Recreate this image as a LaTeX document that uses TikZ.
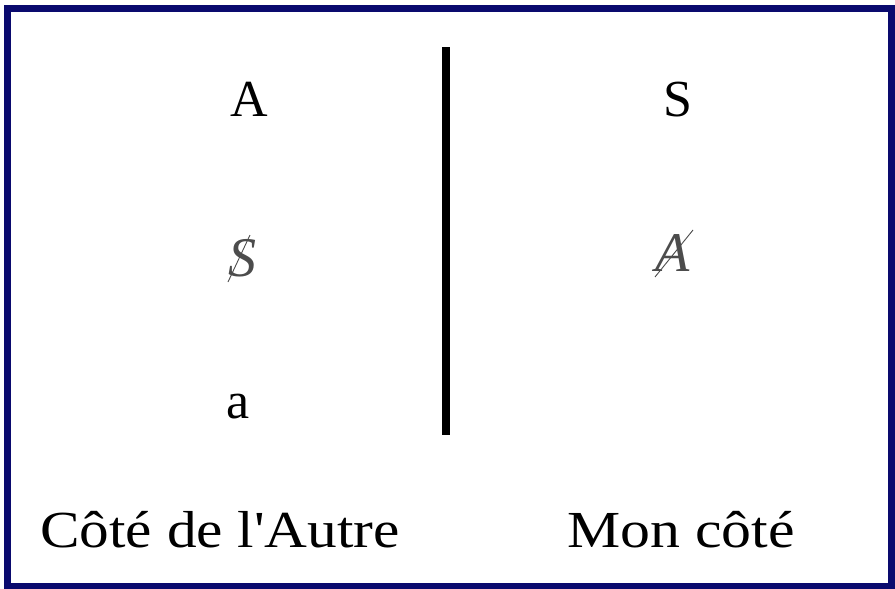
\documentclass[tikz,border=0pt]{standalone}
\usepackage{fontspec}
\setmainfont{Liberation Serif}
\newfontfamily\capfont{Liberation Serif}
\definecolor{navy}{RGB}{10,10,110}
\tikzset{
  letter/.style={anchor=base, inner sep=0pt, font=\fontsize{52}{60}\selectfont},
  barred/.style={anchor=base, inner sep=0pt, text=black!70, font=\fontsize{56}{60}\selectfont\itshape},
  caption/.style={anchor=base west, inner sep=0pt, font=\capfont\fontsize{52}{60}\selectfont},
  slash/.style={black!70, line width=0.9pt},
}
\begin{document}
\begin{tikzpicture}[x=1pt,y=-1pt]
\useasboundingbox (0,0) rectangle (895,589);
\fill[white] (0,0) rectangle (895,589);
\draw[navy, line width=7pt] (7.5,8.5) rectangle (891.5,586);
\draw[line width=8pt] (446,47) coordinate (top) -- (446,435) coordinate (bot);
\node[letter] (A) at (249,116) {A};
\node[letter] (S) at (678,116) {S};
\node[barred] (bS) at (242,276) {S};
\node[barred] (bA) at (673,271) {A};
\node[letter] (a) at (238,418) {a};
\draw[slash] (228,282) coordinate (s1) -- (250,235) coordinate (s2);
\draw[slash] (655,277) coordinate (a1) -- (693,230) coordinate (a2);
\node[caption, xscale=1.14] (L) at (40,547) {Côté de l'Autre};
\node[caption, xscale=1.15] (R) at (567,547) {Mon côté};
\end{tikzpicture}
\end{document}
